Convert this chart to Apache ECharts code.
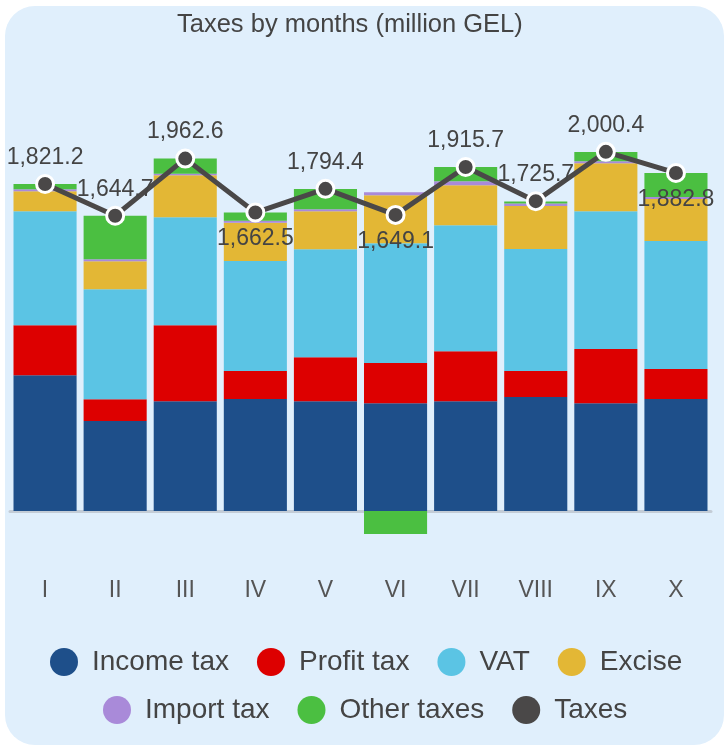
<!DOCTYPE html>
<html>
<head>
<meta charset="utf-8">
<script src="https://cdn.jsdelivr.net/npm/echarts@6/dist/echarts.min.js"></script>
<style>
  body { margin: 0; background: #fff; }
  #bg {
    position: absolute; left: 5px; top: 6px; width: 719px; height: 739px;
    border-radius: 30px; background: #e0effc;
  }
  #chart { position: absolute; left: 0; top: 0; width: 728px; height: 746px; }
</style>
</head>
<body>
<div id="bg"></div>
<div id="chart"></div>
<script>
const months = ["I", "II", "III", "IV", "V", "VI", "VII", "VIII", "IX", "X"];

const incomeTax = [757, 501, 612, 624, 612, 601, 612, 635, 601, 624];
const profitTax = [278, 122, 423, 156, 245, 223, 278, 145, 301, 167];
const vat = [635, 612, 601, 612, 601, 668, 702, 679, 768, 713];
const excise = [111, 156, 234, 213, 212, 267, 223, 240, 267, 234];
const importTax = [11, 11, 9, 11, 11, 17, 22, 13, 11, 11];
const otherTaxes = [29, 243, 84, 47, 113, -128, 79, 12, 52, 134];
const taxes = [1821.2, 1644.7, 1962.6, 1662.5, 1794.4, 1649.1, 1915.7, 1725.7, 2000.4, 1882.8];

// where each total label sits relative to its point
const labelPos = ["top", "top", "top", "bottom", "top", "bottom", "top", "top", "top", "bottom"];

const font = "Liberation Sans, Arial, sans-serif";

const chart = echarts.init(document.getElementById("chart"));

const barSeries = (name, data, color) => ({
  name,
  type: "bar",
  stack: "total",
  barCategoryGap: "10%",
  itemStyle: { color },
  data,
});

const option = {
  backgroundColor: "transparent",
  textStyle: { fontFamily: font },
  animation: false,
  title: {
    text: "Taxes by months (million GEL)",
    left: 177,
    top: 12,
    padding: 0,
    textStyle: { fontSize: 25.5, fontWeight: "normal", color: "#444", fontFamily: font },
  },
  legend: [
    {
      data: ["Income tax", "Profit tax", "VAT", "Excise"],
      left: 50,
      top: 648,
    },
    {
      data: ["Import tax", "Other taxes", "Taxes"],
      left: 103,
      top: 696,
    },
  ].map((l) => ({
    ...l,
    icon: "circle",
    itemWidth: 28,
    itemHeight: 28,
    itemGap: 28,
    padding: 0,
    itemStyle: { borderWidth: 0 },
    textStyle: { fontSize: 28, color: "#444", padding: [0, 0, 0, 9], fontFamily: font },
  })),
  grid: { left: 10, right: 17, top: 107, height: 449 },
  xAxis: {
    type: "category",
    data: months,
    axisLine: { onZero: true, lineStyle: { color: "#c3ccd6", width: 3 } },
    axisTick: { show: false },
    axisLabel: { margin: 23, fontSize: 23, color: "#555", fontFamily: font },
  },
  yAxis: {
    type: "value",
    min: -250,
    max: 2250,
    show: false,
    splitLine: { show: false },
  },
  series: [
    barSeries("Income tax", incomeTax, "#1e4f8a"),
    barSeries("Profit tax", profitTax, "#dd0000"),
    barSeries("VAT", vat, "#5bc4e4"),
    barSeries("Excise", excise, "#e3b735"),
    barSeries("Import tax", importTax, "#a98ad9"),
    barSeries("Other taxes", otherTaxes, "#4bbf41"),
    {
      name: "Taxes",
      type: "line",
      z: 5,
      symbol: "circle",
      symbolSize: 17,
      lineStyle: { color: "#4a4848", width: 5 },
      itemStyle: { color: "#4a4848", borderColor: "#fff", borderWidth: 3 },
      data: taxes.map((v, i) => ({
        value: v,
        label: { position: labelPos[i] },
      })),
      label: {
        show: true,
        distance: 5,
        fontSize: 23,
        fontWeight: "normal",
        color: "#444",
        fontFamily: font,
        formatter: (p) =>
          p.value.toLocaleString("en-US", { minimumFractionDigits: 1, maximumFractionDigits: 1 }),
      },
    },
  ],
};

chart.setOption(option);
window.addEventListener("resize", () => chart.resize());
</script>
</body>
</html>
